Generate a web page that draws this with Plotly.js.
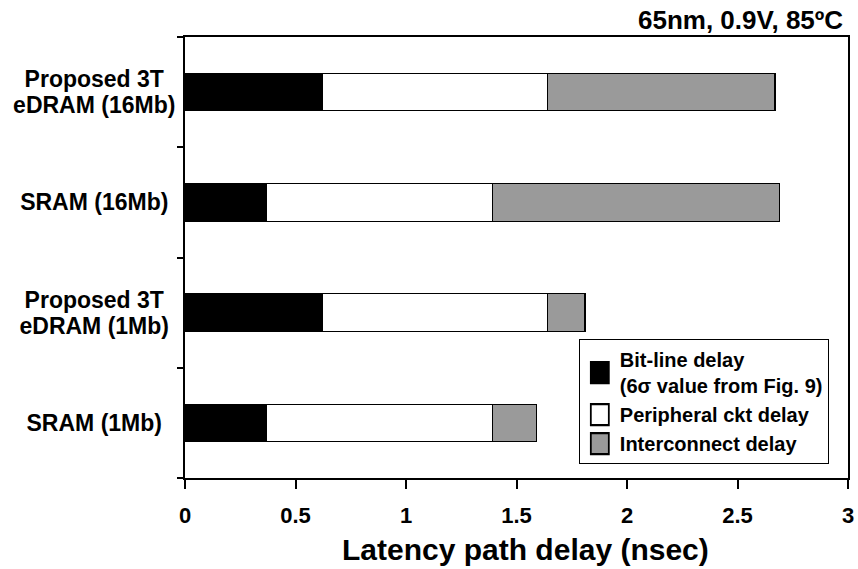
<!DOCTYPE html>
<html>
<head>
<meta charset="utf-8">
<script src="https://cdn.plot.ly/plotly-3.0.1.min.js"></script>
<style>
  html, body { margin: 0; padding: 0; background: #fff; }
  #chart { width: 858px; height: 569px; }
</style>
</head>
<body>
<div id="chart"></div>
<script>
// Memory configurations, bottom to top
const categories = ['SRAM (1Mb)', 'Proposed 3T<br>eDRAM (1Mb)', 'SRAM (16Mb)', 'Proposed 3T<br>eDRAM (16Mb)'];

// Delay components in nsec
const bitLineDelay = [0.37, 0.62, 0.37, 0.62];
const peripheralDelay = [1.02, 1.02, 1.02, 1.02];
const interconnectDelay = [0.20, 0.17, 1.30, 1.03];

const seriesNames = ['Bit-line delay<br>(6\u03c3 value from Fig. 9)', 'Peripheral ckt delay', 'Interconnect delay'];
const xTickValues = [0, 0.5, 1, 1.5, 2, 2.5, 3];
const xTickLabels = ['0', '0.5', '1', '1.5', '2', '2.5', '3'];
const xTitle = 'Latency path delay (nsec)';
const conditions = '65nm, 0.9V, 85\u00baC';

const FONT = 'Liberation Sans, Arial, sans-serif';

function barTrace(values, name, color) {
  return {
    type: 'bar',
    orientation: 'h',
    y: categories,
    x: values,
    name: name,
    width: 0.34,
    marker: { color: color, line: { color: '#000', width: 1.2 } },
    hoverinfo: 'x+name'
  };
}

const data = [
  barTrace(bitLineDelay, seriesNames[0], '#000000'),
  barTrace(peripheralDelay, seriesNames[1], '#ffffff'),
  barTrace(interconnectDelay, seriesNames[2], '#9a9a9a')
];

const layout = {
  width: 858,
  height: 569,
  margin: { l: 185, r: 10, t: 37, b: 91 },
  paper_bgcolor: '#fff',
  plot_bgcolor: '#fff',
  barmode: 'stack',
  font: { family: FONT, color: '#000', size: 18, weight: 'bold' },
  showlegend: true,
  legend: {
    x: 0.594, y: 0.315, xanchor: 'left', yanchor: 'top',
    bgcolor: '#fff', bordercolor: '#000', borderwidth: 1,
    font: { family: FONT, size: 20, color: '#000', weight: 'bold' },
    traceorder: 'normal',
    itemclick: false
  },
  xaxis: {
    range: [0, 3],
    tickvals: xTickValues,
    ticktext: xTickLabels,
    ticks: 'outside',
    ticklen: 9,
    tickwidth: 2,
    tickcolor: '#000',
    showline: true,
    linecolor: '#000',
    linewidth: 2,
    mirror: true,
    showgrid: false,
    zeroline: false,
    ticklabelstandoff: 8,
    tickfont: { family: FONT, size: 22, weight: 'bold' }
  },
  yaxis: {
    type: 'category',
    range: [-0.5, 3.5],
    tickson: 'boundaries',
    ticks: 'outside',
    ticklen: 6,
    tickwidth: 2,
    tickcolor: '#000',
    showline: true,
    linecolor: '#000',
    linewidth: 2,
    mirror: true,
    showgrid: false,
    zeroline: false,
    ticklabelstandoff: 3,
    tickfont: { family: FONT, size: 23, weight: 'bold' }
  },
  annotations: [
    {
      text: conditions,
      xref: 'paper', yref: 'paper',
      x: 1, y: 1.0385,
      xanchor: 'right', yanchor: 'middle',
      xshift: -3,
      showarrow: false,
      font: { family: FONT, size: 26, weight: 'bold', color: '#000' }
    },
    {
      // x-axis title
      text: xTitle,
      xref: 'paper', yref: 'paper',
      x: 0.5136, y: -0.163,
      xanchor: 'center', yanchor: 'middle',
      showarrow: false,
      font: { family: FONT, size: 30, weight: 'bold', color: '#000' }
    }
  ]
};

Plotly.newPlot('chart', data, layout, { displayModeBar: false, staticPlot: true }).then(function (gd) {
  // Taller legend swatches, scaled about their own centre
  gd.querySelectorAll('.legend .legendpoints path').forEach(function (p) {
    const b = p.getBBox();
    const cx = b.x + b.width / 2, cy = b.y + b.height / 2;
    const tr = p.getAttribute('transform') || '';
    p.setAttribute('transform', tr +
      ' translate(' + cx + ',' + cy + ') scale(1.5,1.75) translate(' + (-cx) + ',' + (-cy) + ')');
  });

  // Category labels: centred lines with tighter line spacing
  const labels = Array.from(gd.querySelectorAll('.ytick text'));
  const widest = Math.max.apply(null, labels.map(function (t) { return t.getBBox().width; }));
  labels.forEach(function (t) {
    const before = t.getBBox();
    const cy0 = before.y + before.height / 2;
    t.querySelectorAll('tspan.line').forEach(function (ts, i) {
      if (i > 0) ts.setAttribute('dy', '1.12em');
    });
    const right = before.x + before.width;
    const anchorX = parseFloat(t.getAttribute('x')) || right;
    const centre = anchorX - widest / 2;
    t.setAttribute('text-anchor', 'middle');
    t.setAttribute('x', centre);
    t.querySelectorAll('tspan.line').forEach(function (ts) {
      if (ts.hasAttribute('x')) ts.setAttribute('x', centre);
    });
    const after = t.getBBox();
    const dy = cy0 - (after.y + after.height / 2);
    const tr = t.getAttribute('transform') || '';
    t.setAttribute('transform', tr + ' translate(0,' + dy + ')');
  });
});
</script>
</body>
</html>
